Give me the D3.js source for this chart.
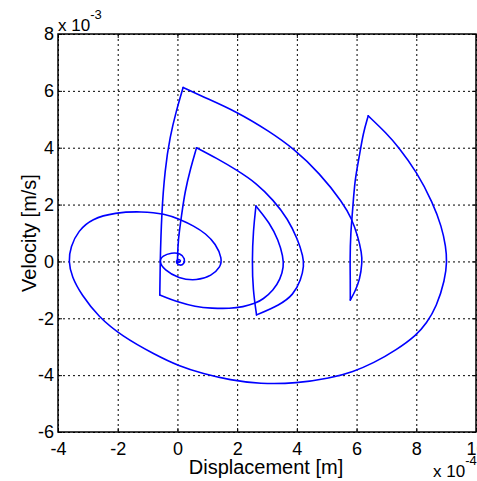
<!DOCTYPE html>
<html lang="en">
<head>
<meta charset="UTF-8">
<title>Phase plot</title>
<script src="https://cdn.jsdelivr.net/npm/d3@7"></script>
<style>
  body { margin: 0; background: #fff; }
  svg text { font-family: Arial, "Liberation Sans", sans-serif; fill: #000; }
</style>
</head>
<body>
<script>
// tick values (x in 1e-4 m, y in 1e-3 m/s)
var xTicks = [-4, -2, 0, 2, 4, 6, 8, 10];
var yTicks = [-6, -4, -2, 0, 2, 4, 6, 8];

// trajectory pieces: [displacement, velocity]
var kick1 = [[0.00, 0.00], [0.02, 0.75], [0.14, 1.63], [0.25, 2.45], [0.44, 3.28], [0.64, 4.00]];
var swing1 = [[0.64, 4.00], [1.31, 3.63], [1.98, 3.22], [2.65, 2.75], [3.21, 2.16], [3.70, 1.50],
  [4.04, 0.75], [4.21, 0.17], [4.24, -0.15], [4.14, -0.65], [3.88, -1.18], [3.43, -1.53], [2.65, -1.88]];
var kick2 = [[2.65, -1.88], [2.53, -1.00], [2.50, 0.01], [2.54, 1.10], [2.63, 1.95]];
var swing2 = [[2.63, 1.95], [3.10, 1.34], [3.38, 0.75], [3.54, 0.17], [3.56, -0.19], [3.45, -0.62],
  [3.21, -1.02], [2.87, -1.33], [2.60, -1.48], [2.20, -1.60], [1.76, -1.66], [1.15, -1.65],
  [0.59, -1.59], [0.03, -1.44], [-0.59, -1.18]];
var kick3 = [[-0.59, -1.18], [-0.58, -0.07], [-0.53, 1.69], [-0.42, 3.22], [-0.25, 4.39], [-0.03, 5.33], [0.19, 6.12]];
var swing3 = [[0.19, 6.12], [0.86, 5.79], [1.98, 5.27], [3.10, 4.56], [3.88, 3.98], [4.77, 3.10],
  [5.55, 2.05], [5.83, 1.52], [6.05, 0.87], [6.17, 0.29], [6.19, -0.02], [6.11, -0.65],
  [5.94, -1.07], [5.79, -1.36]];
var kick4 = [[5.79, -1.36], [5.79, -0.65], [5.78, 0.05], [5.80, 0.99], [5.87, 1.81], [5.94, 2.86],
  [6.09, 3.68], [6.22, 4.51], [6.39, 5.12]];
var swing4 = [[6.39, 5.12], [7.00, 4.51], [7.39, 4.04], [8.01, 3.16], [8.56, 2.05], [8.85, 1.22],
  [8.99, 0.52], [9.03, 0.00], [8.96, -0.65], [8.68, -1.59], [8.34, -2.18], [8.01, -2.59],
  [7.34, -3.11], [6.56, -3.58], [5.89, -3.88], [5.11, -4.11], [3.99, -4.29], [2.76, -4.31],
  [1.76, -4.17], [0.86, -3.95], [0.05, -3.68], [-0.75, -3.28], [-1.87, -2.62], [-2.65, -1.94],
  [-3.21, -1.18], [-3.54, -0.54], [-3.65, 0.00], [-3.58, 0.52], [-3.32, 1.08], [-2.87, 1.50],
  [-2.09, 1.72], [-1.20, 1.76], [-0.42, 1.68], [0.08, 1.48], [0.55, 1.25], [0.95, 0.98],
  [1.28, 0.62], [1.50, 0.10], [1.44, -0.20], [1.15, -0.50], [0.65, -0.68], [0.03, -0.60],
  [-0.44, -0.30], [-0.62, 0.00], [-0.50, 0.20], [-0.20, 0.31], [0.10, 0.29], [0.26, 0.10],
  [0.22, -0.10], [0.08, -0.15], [-0.05, -0.06], [-0.02, 0.07], [0.09, 0.07], [0.11, -0.02],
  [0.03, -0.03], [0.00, 0.00]];

var segments = [kick1, swing1, kick2, swing2, kick3, swing3, kick4, swing4];

var width = 477, height = 481;
var plotLeft = 58, plotRight = 476, plotTop = 34, plotBottom = 432;

var x = d3.scaleLinear().domain([-4, 10]).range([plotLeft, plotRight]);
var y = d3.scaleLinear().domain([-6, 8]).range([plotBottom, plotTop]);

var svg = d3.select("body").append("svg")
  .attr("width", width)
  .attr("height", height);

// dotted grid
svg.append("g").selectAll("line")
  .data(xTicks)
  .enter().append("line")
  .attr("x1", d => x(d) + 0.5).attr("x2", d => x(d) + 0.5)
  .attr("y1", plotTop).attr("y2", plotBottom)
  .attr("stroke", "#000").attr("stroke-width", 1)
  .attr("stroke-dasharray", "2,3");

svg.append("g").selectAll("line")
  .data(yTicks)
  .enter().append("line")
  .attr("x1", plotLeft).attr("x2", plotRight)
  .attr("y1", d => y(d) + 0.5).attr("y2", d => y(d) + 0.5)
  .attr("stroke", "#000").attr("stroke-width", 1)
  .attr("stroke-dasharray", "2,3");

// the curve
var line = d3.line()
  .x(d => x(d[0]))
  .y(d => y(d[1]))
  .curve(d3.curveBasis);

svg.append("g").selectAll("path")
  .data(segments)
  .enter().append("path")
  .attr("d", line)
  .attr("fill", "none")
  .attr("stroke", "#0000ff")
  .attr("stroke-width", 1.6)
  .attr("stroke-linejoin", "round")
  .attr("stroke-linecap", "round");

// axes
var fmt = d => String(d);

svg.append("g")
  .attr("transform", "translate(0," + plotBottom + ")")
  .call(d3.axisBottom(x).tickValues(xTicks).tickFormat(fmt).tickSize(-4).tickSizeOuter(0).tickPadding(10));

svg.append("g")
  .attr("transform", "translate(" + plotLeft + ",0)")
  .call(d3.axisLeft(y).tickValues(yTicks).tickFormat(fmt).tickSize(-4).tickSizeOuter(0).tickPadding(4));

svg.append("g")
  .attr("transform", "translate(0," + plotTop + ")")
  .call(d3.axisTop(x).tickValues(xTicks).tickFormat("").tickSize(-4).tickSizeOuter(0));

svg.append("g")
  .attr("transform", "translate(" + plotRight + ",0)")
  .call(d3.axisRight(y).tickValues(yTicks).tickFormat("").tickSize(-4).tickSizeOuter(0));

svg.selectAll(".domain").remove();
svg.selectAll(".tick line").attr("stroke", "#000");
svg.selectAll(".tick text")
  .attr("font-family", null)
  .style("font-size", "18px");

// box
svg.append("rect")
  .attr("x", plotLeft).attr("y", plotTop)
  .attr("width", plotRight - plotLeft).attr("height", plotBottom - plotTop)
  .attr("fill", "none")
  .attr("stroke", "#000")
  .attr("stroke-width", 1.5);

// labels
svg.append("text")
  .attr("x", 266)
  .attr("y", 474)
  .attr("text-anchor", "middle")
  .style("font-size", "20px")
  .text("Displacement [m]");

svg.append("text")
  .attr("transform", "translate(36," + (plotTop + plotBottom) / 2 + ") rotate(-90)")
  .attr("text-anchor", "middle")
  .style("font-size", "20px")
  .text("Velocity [m/s]");

// exponent notes
var yExp = svg.append("text")
  .attr("x", plotLeft)
  .attr("y", 31)
  .style("font-size", "17px");
yExp.append("tspan").text("x 10");
yExp.append("tspan").attr("dy", -12).style("font-size", "13px").text("-3");

var xExp = svg.append("text")
  .attr("x", 433)
  .attr("y", 477)
  .style("font-size", "17px");
xExp.append("tspan").text("x 10");
xExp.append("tspan").attr("dy", -12).style("font-size", "13px").text("-4");
</script>
</body>
</html>
